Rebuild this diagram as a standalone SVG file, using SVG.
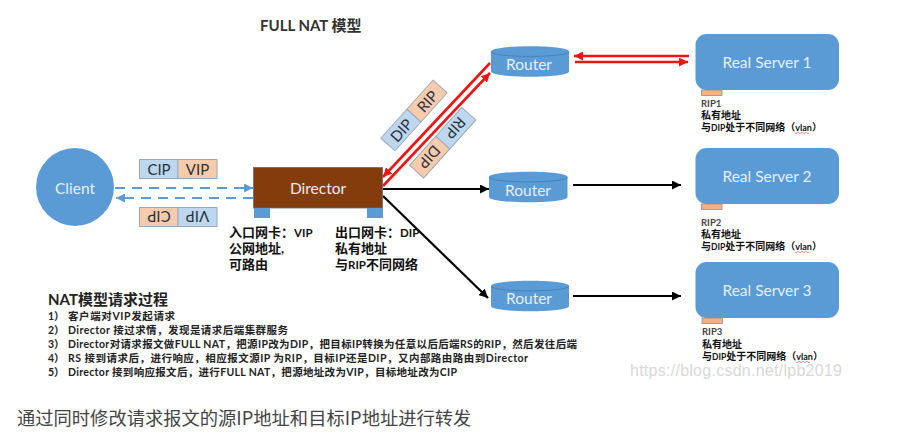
<svg xmlns="http://www.w3.org/2000/svg" xmlns:xlink="http://www.w3.org/1999/xlink" width="904" height="438" viewBox="0 0 904 438">
<style>
text{font-family:"Lato","Noto Sans CJK SC",sans-serif}
.nl{fill:#e4eef8;font-size:15.500px;text-anchor:middle;dominant-baseline:central}
.blue{fill:#5b9bd5}
.pb{fill:#bdd7ee;stroke:#9aa9b8;stroke-width:1}
.po{fill:#f8cbad;stroke:#9aa9b8;stroke-width:1}
.pt{fill:#2a323c;font-size:15px;text-anchor:middle;dominant-baseline:central}
.cn{fill:#111;font-size:13px;font-weight:700}
.rs{fill:#111;font-size:10px;font-weight:700}
.sm{fill:#222;font-size:10.500px;font-weight:700}
.port{fill:#f4b183;stroke:#8a8f96;stroke-width:.8}
.red{stroke:#f01414;stroke-width:2.6;fill:none}
.blk{stroke:#000;stroke-width:2.2;fill:none}
.dash{stroke:#5b9bd5;stroke-width:2.2;stroke-dasharray:10 7;fill:none}
</style>
<defs>
<marker id="ab" markerUnits="userSpaceOnUse" markerWidth="10" markerHeight="9" refX="9" refY="4.500" orient="auto"><path d="M0 0L9 4.500L0 9z" fill="#000"/></marker>
<marker id="ar" markerUnits="userSpaceOnUse" markerWidth="10" markerHeight="9" refX="9" refY="4.500" orient="auto"><path d="M0 0L9 4.500L0 9z" fill="#f01414"/></marker>
<marker id="ad" markerUnits="userSpaceOnUse" markerWidth="10" markerHeight="9" refX="9" refY="4.500" orient="auto"><path d="M0 0L9 4.500L0 9z" fill="#5b9bd5"/></marker>
<path id="sq" d="M0 0q1 1.600 2 0t2 0t2 0t2 0t2 0t2 0t2 0" fill="none" stroke="#e0605a" stroke-width=".7"/>
</defs>
<rect width="904" height="438" fill="#fff"/>
<text x="260" y="31" font-size="15" font-weight="700" fill="#333">FULL NAT 模型</text>

<g id="connectors">
<path class="dash" d="M115 188H253" marker-end="url(#ad)"/>
<path class="dash" d="M253 198H116" marker-end="url(#ad)"/>
<path class="red" d="M490 63L383 177" marker-end="url(#ar)"/>
<path class="red" d="M383 186L490 73" marker-end="url(#ar)"/>
<path class="blk" d="M383 189H489" marker-end="url(#ab)"/>
<path class="blk" d="M383 196L488 298" marker-end="url(#ab)"/>
<path class="red" d="M689 56H574" marker-end="url(#ar)"/>
<path class="red" d="M575 62H688" marker-end="url(#ar)"/>
<path class="blk" d="M573 185H681" marker-end="url(#ab)"/>
<path class="blk" d="M573 296H681" marker-end="url(#ab)"/>
</g>

<g id="client"><circle class="blue" cx="75" cy="187" r="39"/><text class="nl" x="75" y="188">Client</text></g>

<g id="packet-in">
<rect class="pb" x="139.500" y="159.500" width="38.500" height="19"/><rect class="po" x="178" y="159.500" width="39" height="19"/>
<text class="pt" x="159" y="169">CIP</text><text class="pt" x="197.500" y="169">VIP</text>
</g>
<g id="packet-out">
<rect class="po" x="139.500" y="207.500" width="38.500" height="19"/><rect class="pb" x="178" y="207.500" width="39" height="19"/>
<text class="pt" transform="rotate(180 159 217)" x="159" y="217">CIP</text><text class="pt" transform="rotate(180 197.500 217)" x="197.500" y="217">VIP</text>
</g>

<g id="director">
<rect x="253.500" y="167.500" width="129" height="40.500" fill="#843c0c" stroke="#5f6b76" stroke-width=".8"/>
<rect class="blue" x="254" y="208" width="16" height="10"/><rect class="blue" x="367" y="208" width="16" height="10"/>
<text class="nl" x="318" y="188" fill="#f3e5dc">Director</text>
<text class="cn" x="229" y="237">入口网卡：<tspan font-size="11.500">VIP</tspan><tspan x="229" dy="16">公网地址,</tspan><tspan x="229" dy="16">可路由</tspan></text>
<text class="cn" x="335" y="237">出口网卡：<tspan font-size="11.500">DIP</tspan><tspan x="335" dy="16">私有地址</tspan><tspan x="335" dy="16">与<tspan font-size="11.500">RIP</tspan>不同网络</tspan></text>
</g>

<g id="packet-dip-rip" transform="translate(414 115.500) rotate(-48)">
<rect class="pb" x="-39" y="-9.500" width="39" height="19"/><rect class="po" x="0" y="-9.500" width="39" height="19"/>
<text class="pt" x="-19.500" y="0">DIP</text><text class="pt" x="19.500" y="0">RIP</text>
</g>
<g id="packet-rip-dip" transform="translate(442.700 142.700) rotate(132)">
<rect class="pb" x="-39" y="-9.500" width="39" height="19"/><rect class="po" x="0" y="-9.500" width="39" height="19"/>
<text class="pt" x="-19.500" y="0">RIP</text><text class="pt" x="19.500" y="0">DIP</text>
</g>

<g id="router-1"><path class="blue" d="M491 51.500C491 44.500 569 44.500 569 51.500V71.500C569 78.500 491 78.500 491 71.500Z"/><path d="M491 51.500C491 58 569 58 569 51.500" fill="none" stroke="#3f7cb5" stroke-width=".8"/><text class="nl" x="529" y="64">Router</text></g>
<g id="router-2"><path class="blue" d="M489 177C489 170 567.500 170 567.500 177V197C567.500 204 489 204 489 197Z"/><path d="M489 177C489 183.500 567.500 183.500 567.500 177" fill="none" stroke="#3f7cb5" stroke-width=".8"/><text class="nl" x="528" y="190">Router</text></g>
<g id="router-3"><path class="blue" d="M491 286C491 279 569 279 569 286V306C569 313 491 313 491 306Z"/><path d="M491 286C491 292.500 569 292.500 569 286" fill="none" stroke="#3f7cb5" stroke-width=".8"/><text class="nl" x="529" y="298">Router</text></g>

<g id="real-server-1">
<rect class="port" x="701.500" y="90" width="20.500" height="5.500"/>
<rect class="blue" x="695.500" y="34" width="143.500" height="56" rx="11"/>
<text class="nl" x="767" y="62">Real Server 1</text>
<text class="rs" x="701" y="107"><tspan fill="#444" font-size="9.500">RIP1</tspan><tspan x="701" dy="12">私有地址</tspan><tspan x="701" dy="12">与<tspan font-size="8.500">DIP</tspan>处于不同网络（<tspan font-size="9">vlan</tspan>）</tspan></text>
<use xlink:href="#sq" href="#sq" x="795" y="133"/>
</g>
<g id="real-server-2">
<rect class="port" x="701.500" y="204" width="20.500" height="5.500"/>
<rect class="blue" x="695.500" y="148" width="143.500" height="56" rx="11"/>
<text class="nl" x="767" y="176">Real Server 2</text>
<text class="rs" x="701" y="226"><tspan fill="#444" font-size="9.500">RIP2</tspan><tspan x="701" dy="12">私有地址</tspan><tspan x="701" dy="12">与<tspan font-size="8.500">DIP</tspan>处于不同网络（<tspan font-size="9">vlan</tspan>）</tspan></text>
<use xlink:href="#sq" href="#sq" x="795" y="252"/>
</g>
<g id="real-server-3">
<rect class="port" x="702" y="318" width="20.500" height="5.500"/>
<rect class="blue" x="695.500" y="262" width="143.500" height="56" rx="11"/>
<text class="nl" x="767" y="290">Real Server 3</text>
<text class="rs" x="702" y="335"><tspan fill="#444" font-size="9.500">RIP3</tspan><tspan x="702" dy="12.500">私有地址</tspan><tspan x="702" dy="12.500">与<tspan font-size="8.500">DIP</tspan>处于不同网络（<tspan font-size="9">vlan</tspan>）</tspan></text>
<use xlink:href="#sq" href="#sq" x="796" y="362"/>
</g>

<g id="process-notes">
<text x="48" y="305" font-size="15" font-weight="700" fill="#222">NAT模型请求过程</text>
<text class="sm" x="48" y="320">1）</text><text class="sm" x="68" y="320" textLength="107">客户端对VIP发起请求</text>
<text class="sm" x="48" y="333.500">2）</text><text class="sm" x="68" y="333.500" textLength="220">Director 接过求情，发现是请求后端集群服务</text>
<text class="sm" x="48" y="348">3）</text><text class="sm" x="68" y="348" textLength="509">Director对请求报文做FULL NAT，把源IP改为DIP，把目标IP转换为任意以后后端RS的RIP，然后发往后端</text>
<text class="sm" x="48" y="362">4）</text><text class="sm" x="68" y="362" textLength="460">RS 接到请求后，进行响应，相应报文源IP 为RIP，目标IP还是DIP，又内部路由路由到Director</text>
<text class="sm" x="48" y="376">5）</text><text class="sm" x="68" y="376" textLength="389">Director 接到响应报文后，进行FULL NAT，把源地址改为VIP，目标地址改为CIP</text>
</g>
<text x="630" y="376" font-size="16" fill="#d8d8d8" textLength="212" style="font-family:'Liberation Sans',sans-serif">https://blog.csdn.net/lpb2019</text>
<text x="17" y="425" font-size="18.300" fill="#444" style="font-family:'Noto Sans CJK SC','Liberation Sans',sans-serif">通过同时修改请求报文的源IP地址和目标IP地址进行转发</text>
</svg>
